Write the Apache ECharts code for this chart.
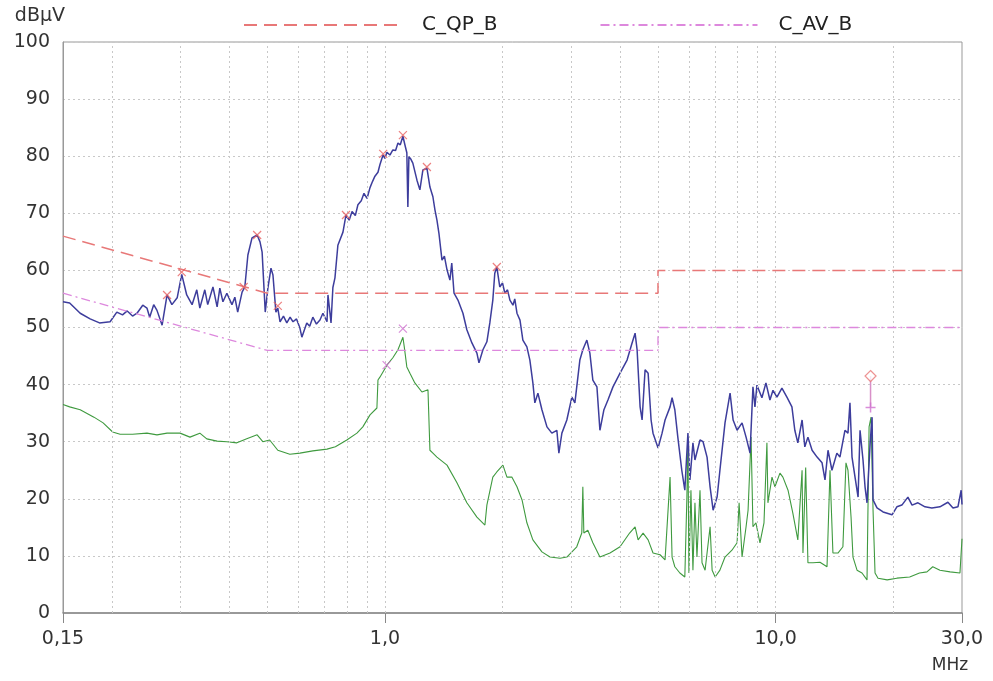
<!DOCTYPE html>
<html>
<head>
<meta charset="utf-8">
<title>EMI scan</title>
<script src="https://cdn.jsdelivr.net/npm/echarts@6/dist/echarts.min.js"></script>
<style>
  html, body { margin: 0; padding: 0; background: #fff; }
  #main { width: 993px; height: 681px; }
</style>
</head>
<body>
<div id="main"></div>
<script>
// limit lines (MHz, dBµV)
var qpLimit = [[0.15, 66], [0.5, 56], [5, 56], [5, 60], [30, 60]];
var avLimit = [[0.15, 56], [0.5, 46], [5, 46], [5, 50], [30, 50]];

// vertical dotted grid positions (MHz)
var gridFreqs = [0.2, 0.3, 0.4, 0.5, 0.6, 0.7, 0.8, 0.9, 1, 2, 3, 4, 5, 6, 7, 8, 9, 10, 20];

// peak trace (blue)
var peakTrace = [
  [0.150, 54.5], [0.156, 54.3], [0.166, 52.5], [0.176, 51.5], [0.186, 50.8], [0.198, 51.0],
  [0.206, 52.7], [0.213, 52.2], [0.219, 52.9], [0.226, 52.0], [0.232, 52.5], [0.240, 53.9],
  [0.246, 53.4], [0.250, 51.8], [0.256, 54.0], [0.261, 53.0], [0.269, 50.4], [0.277, 55.7],
  [0.285, 54.0], [0.294, 55.2], [0.302, 59.3], [0.311, 55.7], [0.321, 54.0], [0.330, 56.6],
  [0.336, 53.4], [0.346, 56.6], [0.352, 54.0], [0.363, 57.1], [0.372, 53.6], [0.378, 56.9],
  [0.385, 54.5], [0.394, 56.0], [0.406, 54.0], [0.413, 55.3], [0.420, 52.7], [0.431, 56.2],
  [0.438, 57.1], [0.446, 62.7], [0.457, 65.7], [0.471, 66.2], [0.479, 65.0], [0.485, 63.2],
  [0.491, 56.2], [0.494, 52.7], [0.502, 57.0], [0.511, 60.4], [0.517, 59.2], [0.526, 52.7],
  [0.532, 53.4], [0.539, 51.0], [0.550, 52.0], [0.561, 50.8], [0.572, 51.8], [0.582, 51.0],
  [0.594, 51.5], [0.606, 49.9], [0.613, 48.3], [0.631, 50.8], [0.642, 50.2], [0.654, 51.8],
  [0.668, 50.6], [0.682, 51.3], [0.694, 52.5], [0.711, 51.0], [0.715, 55.7], [0.728, 50.8],
  [0.736, 57.0], [0.745, 58.7], [0.758, 64.4], [0.781, 66.7], [0.795, 69.7], [0.810, 68.8],
  [0.824, 70.3], [0.840, 69.6], [0.853, 71.5], [0.870, 72.2], [0.884, 73.5], [0.900, 72.6],
  [0.916, 74.5], [0.930, 75.6], [0.943, 76.5], [0.960, 77.2], [0.971, 78.5], [0.989, 80.2],
  [1.000, 79.6], [1.012, 80.7], [1.030, 80.2], [1.048, 81.1], [1.065, 81.0], [1.080, 82.3],
  [1.095, 82.0], [1.112, 83.5], [1.125, 82.0], [1.138, 80.6], [1.145, 71.1], [1.152, 79.9],
  [1.165, 79.5], [1.179, 78.8], [1.208, 75.8], [1.229, 74.1], [1.251, 77.6], [1.281, 77.9],
  [1.304, 74.6], [1.327, 72.9], [1.343, 70.6], [1.359, 68.8], [1.375, 66.5], [1.400, 61.8],
  [1.420, 62.5], [1.442, 60.1], [1.467, 58.3], [1.483, 61.3], [1.503, 56.0], [1.538, 54.8],
  [1.584, 52.5], [1.621, 49.6], [1.670, 47.3], [1.720, 45.5], [1.741, 43.8], [1.782, 46.1],
  [1.824, 47.5], [1.856, 50.8], [1.889, 54.8], [1.911, 59.5], [1.934, 60.6], [1.968, 57.1],
  [2.000, 57.8], [2.028, 56.0], [2.060, 56.6], [2.089, 54.8], [2.127, 53.9], [2.150, 55.0],
  [2.178, 52.5], [2.217, 51.3], [2.255, 47.8], [2.309, 46.6], [2.350, 44.3], [2.392, 40.3],
  [2.420, 36.8], [2.464, 38.5], [2.523, 35.6], [2.599, 32.6], [2.675, 31.5], [2.755, 32.0],
  [2.788, 28.0], [2.838, 31.5], [2.922, 33.8], [3.010, 37.8], [3.064, 36.8], [3.155, 44.3],
  [3.211, 46.1], [3.288, 47.8], [3.347, 45.5], [3.406, 40.8], [3.489, 39.6], [3.551, 32.0],
  [3.636, 35.6], [3.723, 37.3], [3.835, 39.6], [3.998, 42.0], [4.167, 44.3], [4.292, 47.3],
  [4.369, 49.0], [4.421, 46.1], [4.500, 36.1], [4.553, 33.8], [4.634, 42.6], [4.718, 42.0],
  [4.801, 33.8], [4.856, 31.5], [5.003, 28.9], [5.122, 31.5], [5.213, 33.8], [5.369, 36.1],
  [5.433, 37.7], [5.522, 35.6], [5.620, 30.8], [5.753, 25.0], [5.857, 21.5], [5.965, 31.5],
  [6.036, 23.3], [6.144, 29.8], [6.217, 26.8], [6.405, 30.3], [6.521, 30.0], [6.677, 27.3],
  [6.797, 22.1], [6.920, 18.0], [7.084, 20.3], [7.203, 25.0], [7.422, 33.3], [7.647, 38.5],
  [7.785, 33.8], [7.970, 32.0], [8.207, 33.3], [8.403, 30.8], [8.602, 28.0], [8.751, 39.6],
  [8.854, 36.1], [8.959, 39.9], [9.226, 37.7], [9.447, 40.3], [9.672, 37.3], [9.848, 39.0],
  [10.08, 37.8], [10.38, 39.4], [10.69, 37.8], [11.01, 36.1], [11.20, 32.0], [11.40, 29.8],
  [11.69, 33.8], [11.88, 29.1], [12.10, 30.8], [12.40, 28.5], [12.77, 27.3], [13.15, 26.3],
  [13.38, 23.3], [13.62, 28.5], [13.94, 25.0], [14.35, 28.0], [14.61, 27.3], [15.05, 32.0],
  [15.32, 31.5], [15.50, 36.8], [15.69, 27.3], [15.97, 23.8], [16.26, 20.3], [16.45, 32.0],
  [16.74, 26.8], [16.94, 22.1], [17.14, 19.3], [17.46, 29.8], [17.66, 34.3], [17.76, 19.8],
  [18.18, 18.4], [18.84, 17.7], [19.86, 17.2], [20.44, 18.6], [21.05, 18.9], [21.81, 20.3],
  [22.35, 18.9], [23.14, 19.3], [24.12, 18.6], [25.12, 18.4], [26.34, 18.6], [27.61, 19.4],
  [28.45, 18.4], [29.29, 18.6], [29.85, 21.5], [30.00, 19.0]
];

// average trace (green)
var avgTrace = [
  [0.150, 36.5], [0.156, 36.1], [0.166, 35.6], [0.180, 34.3], [0.190, 33.3], [0.201, 31.7],
  [0.210, 31.3], [0.226, 31.3], [0.246, 31.5], [0.261, 31.2], [0.277, 31.5], [0.299, 31.5],
  [0.317, 30.8], [0.336, 31.5], [0.350, 30.5], [0.372, 30.1], [0.394, 30.0], [0.418, 29.8],
  [0.443, 30.5], [0.471, 31.2], [0.487, 30.0], [0.507, 30.3], [0.532, 28.5], [0.571, 27.8],
  [0.606, 28.0], [0.654, 28.4], [0.711, 28.7], [0.747, 29.1], [0.799, 30.3], [0.848, 31.5],
  [0.878, 32.6], [0.916, 34.7], [0.954, 35.9], [0.960, 40.8], [0.971, 41.3], [1.012, 43.4],
  [1.048, 44.7], [1.080, 46.1], [1.112, 48.3], [1.121, 46.6], [1.138, 43.1], [1.159, 42.0],
  [1.193, 40.3], [1.244, 38.7], [1.289, 39.1], [1.304, 28.5], [1.327, 28.0], [1.359, 27.3],
  [1.442, 25.9], [1.529, 22.8], [1.621, 19.3], [1.720, 16.8], [1.803, 15.4], [1.824, 18.9],
  [1.889, 23.8], [1.934, 24.7], [2.005, 25.9], [2.053, 23.8], [2.113, 23.8], [2.178, 22.1],
  [2.244, 19.8], [2.309, 15.8], [2.392, 12.8], [2.523, 10.7], [2.646, 9.8], [2.808, 9.6],
  [2.922, 9.8], [3.098, 11.6], [3.191, 14.0], [3.211, 22.1], [3.230, 14.0], [3.307, 14.5],
  [3.406, 12.3], [3.551, 9.8], [3.768, 10.5], [3.998, 11.6], [4.230, 14.0], [4.369, 15.1],
  [4.447, 12.8], [4.580, 14.0], [4.718, 12.8], [4.856, 10.5], [5.062, 10.2], [5.213, 9.3],
  [5.369, 23.8], [5.433, 9.8], [5.522, 8.1], [5.688, 7.0], [5.857, 6.3], [5.929, 20.3],
  [5.965, 30.8], [6.000, 7.0], [6.072, 21.5], [6.144, 7.5], [6.217, 19.3], [6.291, 9.8],
  [6.405, 21.5], [6.482, 8.8], [6.600, 7.5], [6.797, 15.1], [6.880, 7.5], [7.004, 6.3],
  [7.203, 7.5], [7.422, 9.8], [7.731, 11.0], [7.970, 12.3], [8.065, 19.3], [8.207, 9.8],
  [8.403, 15.1], [8.503, 18.0], [8.654, 30.8], [8.751, 15.1], [8.906, 15.8], [9.120, 12.3],
  [9.339, 15.8], [9.502, 29.8], [9.558, 19.3], [9.790, 23.8], [9.962, 22.1], [10.26, 24.5],
  [10.44, 23.8], [10.76, 21.5], [11.07, 17.5], [11.40, 12.8], [11.69, 25.0], [11.75, 10.5],
  [11.94, 25.5], [12.10, 8.8], [12.47, 8.8], [12.99, 8.9], [13.54, 8.1], [13.78, 25.0],
  [14.02, 10.5], [14.44, 10.5], [14.87, 11.6], [15.14, 26.3], [15.32, 25.0], [15.60, 16.8],
  [15.78, 9.8], [16.16, 7.5], [16.64, 7.0], [17.14, 5.8], [17.35, 32.6], [17.55, 34.3],
  [17.76, 18.0], [17.97, 7.0], [18.29, 6.1], [19.30, 5.8], [20.44, 6.1], [22.04, 6.3],
  [23.35, 7.0], [24.40, 7.2], [25.25, 8.1], [26.34, 7.5], [27.97, 7.2], [29.64, 7.0],
  [29.90, 7.0], [30.00, 13.0]
];

// marked peaks
var peakMarks = [[0.277, 55.7], [0.302, 59.7], [0.435, 57.1], [0.471, 66.2], [0.532, 53.8],
  [0.795, 69.7], [0.99, 80.4], [1.112, 83.7], [1.281, 78.1], [1.934, 60.6]];
var avgMarks = [[1.01, 43.4], [1.112, 49.8]];
// final measurement at 17.5 MHz: QP and AV readings
var qpFinal = [[17.5, 41.5]];
var avFinal = [[17.5, 36.0]];

var crossPath = 'path://M0,0L10,10M10,0L0,10';
var plusPath = 'path://M5,0L5,10M0,5L10,5';
var fontFam = 'DejaVu Sans';

var myChart = echarts.init(document.getElementById('main'));
var option = {
  animation: false,
  backgroundColor: '#fff',
  textStyle: { fontFamily: fontFam },
  legend: {
    data: ['C_QP_B', 'C_AV_B'],
    left: 238,
    top: 10,
    itemWidth: 157,
    itemHeight: 12,
    itemGap: 102,
    itemStyle: { opacity: 0 },
    textStyle: { fontSize: 20, color: '#222', fontFamily: fontFam, padding: [0, 0, 0, 16] }
  },
  grid: {
    left: 63,
    right: 31,
    top: 42,
    bottom: 68,
    show: true,
    borderColor: '#999',
    borderWidth: 1
  },
  xAxis: {
    type: 'log',
    logBase: 10,
    min: 0.15,
    max: 30,
    name: 'MHz',
    nameLocation: 'end',
    nameGap: -12,
    nameTextStyle: { fontSize: 17, color: '#333', align: 'center', verticalAlign: 'top', padding: [44, 0, 0, 0] },
    axisLine: { lineStyle: { color: '#888', width: 1.5 } },
    axisTick: { show: true, length: 10, lineStyle: { color: '#888' } },
    axisLabel: {
      fontSize: 19,
      color: '#333',
      margin: 17,
      formatter: function (v) {
        var s = v < 1 ? v.toFixed(2) : v.toFixed(1);
        return s.replace('.', ',');
      }
    },
    splitLine: { show: false }
  },
  yAxis: {
    type: 'value',
    min: 0,
    max: 100,
    interval: 10,
    name: 'dBµV',
    nameLocation: 'end',
    nameGap: 16,
    nameTextStyle: { fontSize: 19, color: '#333', align: 'right', padding: [0, -2, 0, 0] },
    axisLine: { show: true, lineStyle: { color: '#999' } },
    axisTick: { show: false },
    axisLabel: { fontSize: 19, color: '#333', margin: 13 },
    splitLine: { lineStyle: { color: '#c8c8c8', type: [2, 3] } }
  },
  series: [
    {
      // vertical log grid
      name: 'grid',
      type: 'line',
      data: [],
      silent: true,
      z: 1,
      markLine: {
        silent: true,
        symbol: 'none',
        label: { show: false },
        lineStyle: { color: '#c8c8c8', type: [2, 3], width: 1 },
        data: gridFreqs.map(function (f) { return { xAxis: f }; })
      }
    },
    {
      name: 'avg',
      type: 'line',
      data: avgTrace,
      symbol: 'none',
      z: 3,
      lineStyle: { color: '#3f9a3f', width: 1.1 }
    },
    {
      name: 'peak',
      type: 'line',
      data: peakTrace,
      symbol: 'none',
      z: 4,
      lineStyle: { color: '#3d3d9c', width: 1.5 }
    },
    {
      name: 'C_QP_B',
      type: 'line',
      data: qpLimit,
      symbol: 'none',
      z: 5,
      itemStyle: { color: '#e87878' },
      lineStyle: { color: '#e87878', width: 1.5, type: [13, 7] }
    },
    {
      name: 'C_AV_B',
      type: 'line',
      data: avLimit,
      symbol: 'none',
      z: 5,
      itemStyle: { color: '#dd88dd' },
      lineStyle: { color: '#dd88dd', width: 1.3, type: [9, 4, 2, 4] }
    },
    {
      name: 'peakMarks',
      type: 'scatter',
      data: peakMarks,
      symbol: crossPath,
      symbolSize: 8,
      z: 6,
      itemStyle: { color: 'none', borderColor: '#e86060', borderWidth: 1.2 }
    },
    {
      name: 'avgMarks',
      type: 'scatter',
      data: avgMarks,
      symbol: crossPath,
      symbolSize: 8,
      z: 6,
      itemStyle: { color: 'none', borderColor: '#d070d0', borderWidth: 1.2 }
    },
    {
      // stem between final QP and AV readings
      name: 'finalStem',
      type: 'line',
      data: [qpFinal[0], avFinal[0]],
      symbol: 'none',
      z: 6,
      lineStyle: { color: '#d890c8', width: 1.5 }
    },
    {
      name: 'qpFinal',
      type: 'scatter',
      data: qpFinal,
      symbol: 'diamond',
      symbolSize: 11,
      z: 7,
      itemStyle: { color: '#fff', borderColor: '#e87878', borderWidth: 1.2 }
    },
    {
      name: 'avFinal',
      type: 'scatter',
      data: avFinal,
      symbol: plusPath,
      symbolSize: 10,
      z: 7,
      itemStyle: { color: 'none', borderColor: '#d070d0', borderWidth: 1.5 }
    }
  ]
};
option && myChart.setOption(option);
</script>
</body>
</html>
